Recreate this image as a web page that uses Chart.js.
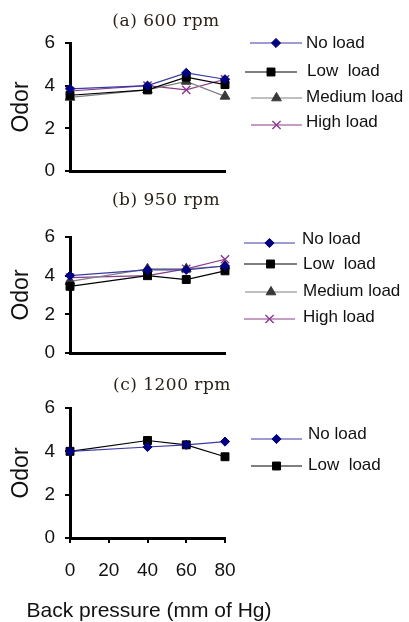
<!DOCTYPE html>
<html><head><meta charset="utf-8">
<script src="https://cdn.jsdelivr.net/npm/chart.js@4/dist/chart.umd.min.js"></script>
<style>
html,body{margin:0;padding:0;background:#fff;width:409px;height:622px;overflow:hidden}
.p{position:absolute;left:0;width:409px}
</style></head><body>
<div class="p" style="top:0;height:185px"><canvas id="ca"></canvas></div>
<div class="p" style="top:185px;height:185px"><canvas id="cb"></canvas></div>
<div class="p" style="top:370px;height:252px"><canvas id="cc"></canvas></div>
<script>
// ---- data ----
const backPressure = [0, 40, 60, 80];          // mm of Hg
const xTickStep = 20;
const yTickStep = 2;
const seriesLabels = ['No load', 'Low  load', 'Medium load', 'High load'];
const panelTitles = ['(a) 600 rpm', '(b) 950 rpm', '(c) 1200 rpm'];
const yTitle = 'Odor';
const xTitle = 'Back pressure (mm of Hg)';

// (a) 600 rpm
const rpm600NoLoad     = [3.85, 4.0, 4.6, 4.3];
const rpm600LowLoad    = [3.55, 3.8, 4.4, 4.05];
const rpm600MediumLoad = [3.45, 3.8, 4.2, 3.5];
const rpm600HighLoad   = [3.75, 4.0, 3.8, 4.3];
// (b) 950 rpm
const rpm950NoLoad     = [4.0, 4.3, 4.3, 4.5];
const rpm950LowLoad    = [3.45, 4.0, 3.8, 4.25];
const rpm950MediumLoad = [3.7, 4.35, 4.35, 4.5];
const rpm950HighLoad   = [3.9, 4.0, 4.35, 4.85];
// (c) 1200 rpm
const rpm1200NoLoad    = [4.0, 4.2, 4.3, 4.45];
const rpm1200LowLoad   = [4.0, 4.5, 4.3, 3.75];

// ---- styles ----
const styles = [
  {line:'#3a3aa6', fill:'#000080', pt:'rectRot', r:4.6, bw:1},
  {line:'#000000', fill:'#000000', pt:'rect', r:5.6, bw:1},
  {line:'#808080', fill:'#383838', pt:'triangle', r:5.6, bw:1},
  {line:'#8b3a8b', fill:'#8b3a8b', pt:'crossRot', r:5.8, bw:1.4}
];
const SANS = "'Liberation Sans', Arial, sans-serif";

function toPoints(vals){ return backPressure.map((x,i)=>({x:x, y:vals[i]})); }

function drawMarker(ctx, st, x, y){
  ctx.fillStyle = st.fill; ctx.strokeStyle = st.fill; ctx.lineWidth = st.bw;
  if (window.Chart && Chart.helpers && Chart.helpers.drawPoint) {
    Chart.helpers.drawPoint(ctx, {pointStyle:st.pt, radius:st.r, rotation:0, borderWidth:st.bw}, x, y);
  }
}

const annot = {
  id:'annot',
  afterDraw(chart, args, o){
    const ctx = chart.ctx;
    ctx.save();
    ctx.font = "17px 'DejaVu Serif', 'Liberation Serif', serif";
    if ('letterSpacing' in ctx) ctx.letterSpacing = '0.5px';
    ctx.fillStyle = '#2a2218';
    ctx.textAlign = 'center'; ctx.textBaseline = 'middle';
    ctx.fillText(o.title, o.tcx, o.tcy);
    if ('letterSpacing' in ctx) ctx.letterSpacing = '0px';
    if (o.xTitle) {
      ctx.font = '21px ' + SANS;
      ctx.fillStyle = '#111';
      ctx.fillText(o.xTitle, o.xcx, o.xcy);
    }
    ctx.font = '17px ' + SANS;
    ctx.textAlign = 'left';
    chart.data.datasets.forEach((ds, i) => {
      const it = o.items[i]; const st = styles[i];
      ctx.strokeStyle = st.line; ctx.lineWidth = 1.2;
      ctx.beginPath(); ctx.moveTo(it.x1, it.y); ctx.lineTo(it.x2, it.y); ctx.stroke();
      drawMarker(ctx, st, (it.x1 + it.x2)/2, it.y);
      ctx.fillStyle = '#111';
      ctx.fillText(ds.label, it.tx, it.ty);
    });
    ctx.restore();
  }
};

function makeChart(id, title, series, g){
  const datasets = series.map((vals, i) => {
    const st = styles[i];
    return {
      label: seriesLabels[i], data: toPoints(vals),
      borderColor: st.line, borderWidth: 1.2, backgroundColor: st.fill,
      pointBackgroundColor: st.fill, pointBorderColor: st.fill,
      pointStyle: st.pt, pointRadius: st.r, pointBorderWidth: st.bw,
      tension: 0, clip: false
    };
  });
  new Chart(document.getElementById(id), {
    type: 'line',
    data: { datasets },
    options: {
      responsive: true, maintainAspectRatio: false, animation: false,
      layout: { padding: { top: g.top, bottom: 0, left: 0, right: 184 } },
      plugins: {
        legend: { display: false }, tooltip: { enabled: false },
        annot: { title, tcx: g.tcx, tcy: g.tcy, items: g.items,
                 xTitle: g.showX ? xTitle : null, xcx: 149, xcy: 241 }
      },
      scales: {
        x: {
          type: 'linear', min: 0, max: 80,
          ticks: { display: g.showX, stepSize: xTickStep, color: '#111', padding: 16,
                   font: { family: SANS, size: 19 } },
          grid: { display: true, drawOnChartArea: false, drawTicks: g.showX, tickLength: 5,
                  color: '#000', lineWidth: 2 },
          border: { display: true, color: '#000', width: 3 },
          afterFit: s => { s.height = g.xh; }
        },
        y: {
          min: 0, max: 6,
          ticks: { stepSize: yTickStep, color: '#111', padding: 10, font: { family: SANS, size: 19 } },
          grid: { display: true, drawOnChartArea: false, drawTicks: true, tickLength: 5,
                  color: '#000', lineWidth: 2 },
          border: { display: true, color: '#000', width: 3 },
          title: { display: true, text: yTitle, color: '#111',
                   font: { family: SANS, size: 23 }, padding: { top: 8, bottom: 0 } },
          afterFit: s => { s.width = 70; s.paddingTop = 4; s.paddingBottom = 4; }
        }
      }
    },
    plugins: [annot]
  });
}

makeChart('ca', panelTitles[0],
  [rpm600NoLoad, rpm600LowLoad, rpm600MediumLoad, rpm600HighLoad],
  { top: 43, xh: 14, showX: false, tcx: 166, tcy: 22,
    items: [
      {x1:250, x2:302, y:43, tx:306, ty:43},
      {x1:245, x2:297, y:72, tx:307, ty:71},
      {x1:251, x2:302, y:98, tx:306, ty:97},
      {x1:251, x2:302, y:125, tx:306, ty:122}
    ] });

makeChart('cb', panelTitles[1],
  [rpm950NoLoad, rpm950LowLoad, rpm950MediumLoad, rpm950HighLoad],
  { top: 52, xh: 17, showX: false, tcx: 166, tcy: 16,
    items: [
      {x1:244, x2:295, y:58, tx:302, ty:54},
      {x1:244, x2:297, y:79, tx:303, ty:79},
      {x1:245, x2:297, y:107, tx:303, ty:106},
      {x1:244, x2:295, y:134, tx:303, ty:132}
    ] });

makeChart('cc', panelTitles[2],
  [rpm1200NoLoad, rpm1200LowLoad],
  { top: 38, xh: 84, showX: true, tcx: 172, tcy: 16,
    items: [
      {x1:251, x2:302, y:69, tx:308, ty:64},
      {x1:251, x2:302, y:96, tx:308, ty:95}
    ] });
</script>
</body></html>
